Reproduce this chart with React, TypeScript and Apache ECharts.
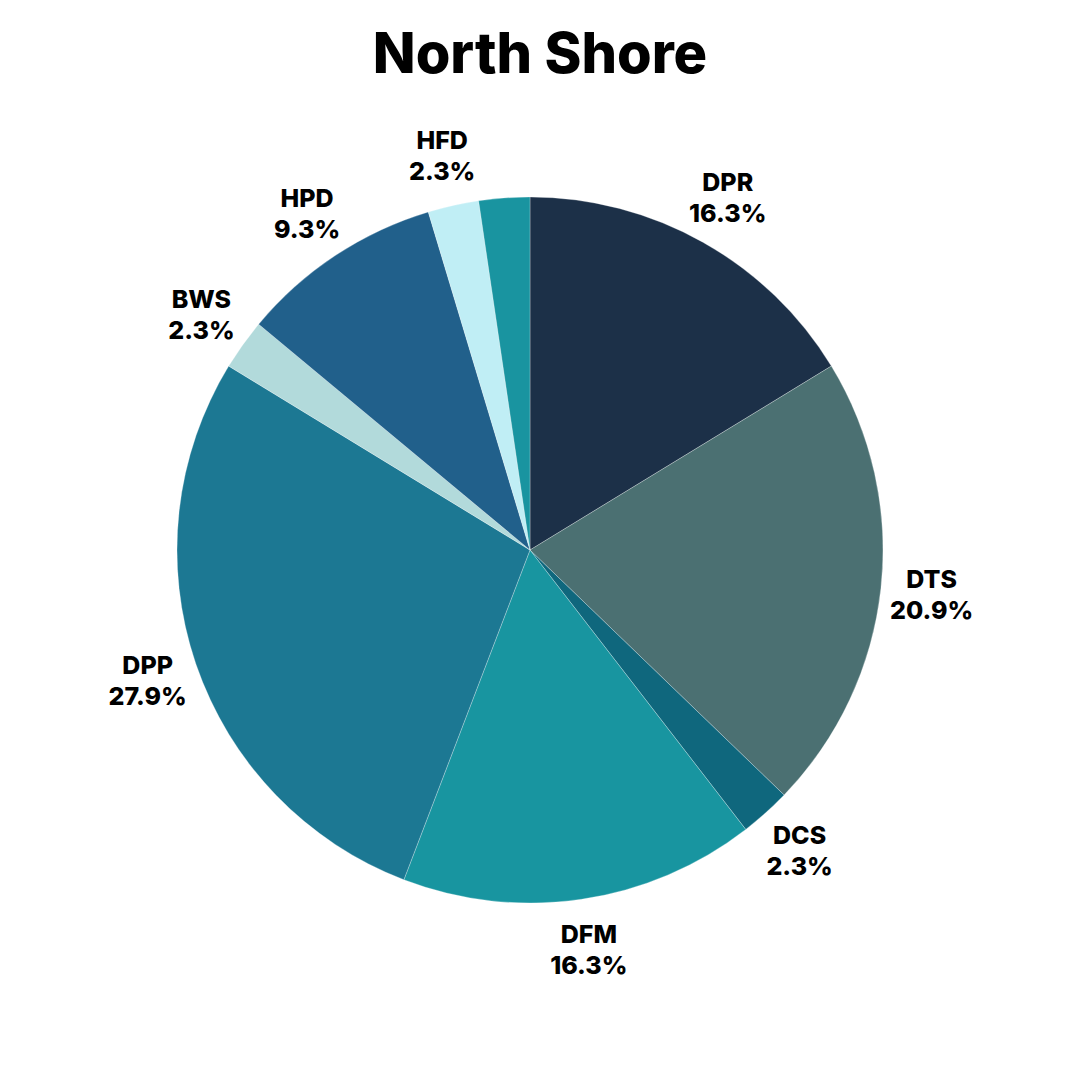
import React, { useEffect, useRef } from "react";
import * as echarts from "echarts";

const TITLE = "North Shore";
const categories = ["DPR", "DTS", "DCS", "DFM", "DPP", "BWS", "HPD", "HFD", "Other"];
const values = [7, 9, 1, 7, 12, 1, 4, 1, 1];
const colors = ["#1c3048", "#4b7072", "#0f677d", "#1895a0", "#1c7893", "#b2dadb", "#21608b", "#c0eef5", "#1994a0"];
const hiddenLabels = ["Other"];

export default function App() {
  const ref = useRef<HTMLDivElement>(null);
  useEffect(() => {
    document.body.style.margin = "0";
    const chart = echarts.init(ref.current!, null, { renderer: "svg" });
    const total = values.reduce((a, b) => a + b, 0);
    const font = "Inter, 'Noto Sans', sans-serif";
    chart.setOption({
      animation: false,
      backgroundColor: "#ffffff",
      title: {
        text: TITLE,
        left: "center",
        top: 20,
        textStyle: { fontFamily: font, fontWeight: 800, fontSize: 56, color: "#000" },
      },
      series: [
        {
          type: "pie",
          center: [530, 550],
          radius: [0, 353],
          startAngle: 90,
          clockwise: true,
          silent: true,
          label: { show: false },
          labelLine: { show: false },
          itemStyle: { borderColor: "rgba(255,255,255,0.45)", borderWidth: 0.6 },
          data: categories.map((c, i) => ({ name: c, value: values[i], itemStyle: { color: colors[i] } })),
        },
        {
          type: "pie",
          center: [530, 550],
          radius: [376, 426],
          startAngle: 90,
          clockwise: true,
          silent: true,
          itemStyle: { color: "rgba(0,0,0,0)", borderWidth: 0 },
          labelLine: { show: false },
          label: {
            show: true,
            position: "inside",
            rotate: 0,
            fontFamily: font,
            fontWeight: 800,
            fontSize: 25,
            lineHeight: 31,
            color: "#000",
            align: "center",
            formatter: (p: any) => `${p.name}\n${((p.value / total) * 100).toFixed(1)}%`,
          },
          data: categories.map((c, i) => ({
            name: c,
            value: values[i],
            label: hiddenLabels.includes(c) ? { show: false } : undefined,
          })),
        },
      ],
    });
    return () => chart.dispose();
  }, []);
  return <div ref={ref} style={{ width: 1080, height: 1080 }} />;
}
